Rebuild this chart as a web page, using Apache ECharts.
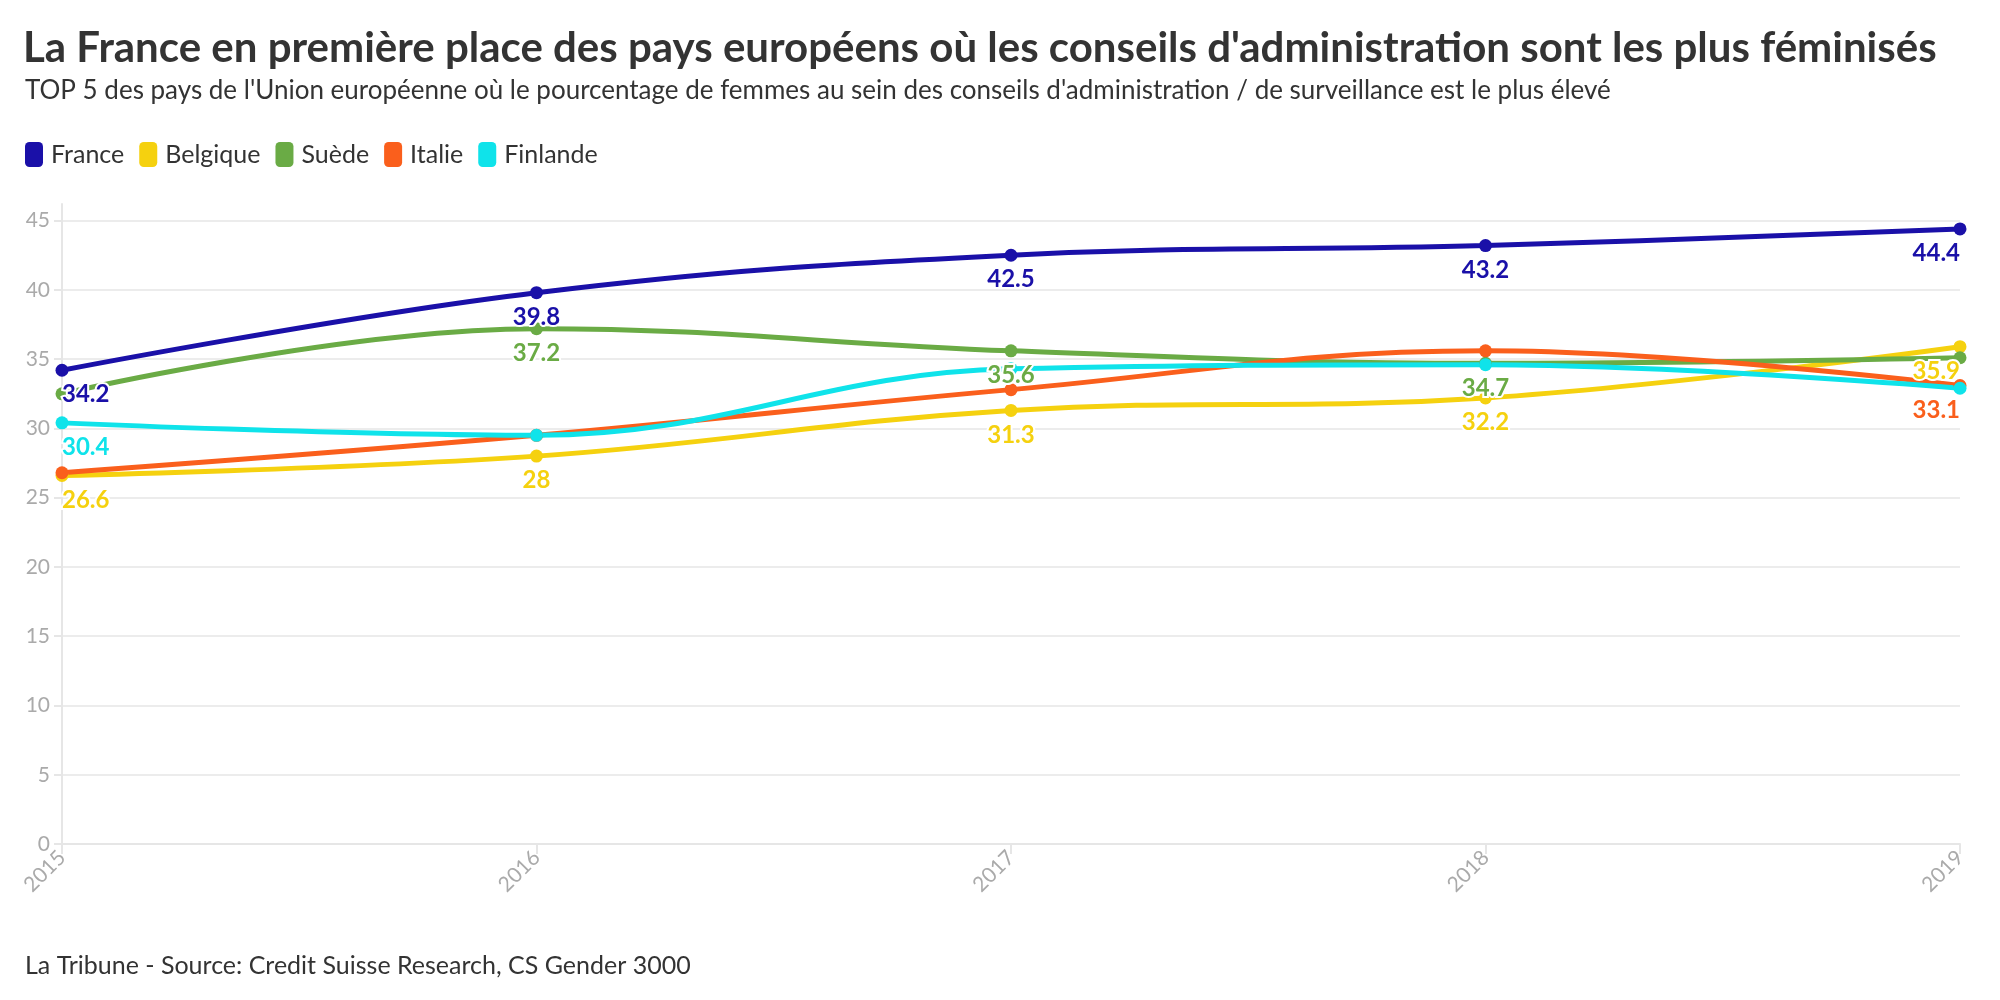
<!DOCTYPE html>
<html>
<head>
<meta charset="utf-8">
<script src="https://cdn.jsdelivr.net/npm/echarts@6/dist/echarts.min.js"></script>
<style>
  html, body { margin: 0; padding: 0; background: #fff; }
  #main { width: 2000px; height: 1000px; }
</style>
</head>
<body>
<div id="main"></div>
<script>
// années
var years = ["2015", "2016", "2017", "2018", "2019"];

// % de femmes dans les conseils
var france = [34.2, 39.8, 42.5, 43.2, 44.4];
var belgique = [26.6, 28, 31.3, 32.2, 35.9];
var suede = [32.5, 37.2, 35.6, 34.7, 35.1];
var italie = [26.8, 29.5, 32.8, 35.6, 33.1];
var finlande = [30.4, 29.5, 34.3, 34.6, 32.9];

// étiquettes visibles (les autres se chevauchent dans l'original)
var showFrance = [true, true, true, true, true];
var showBelgique = [true, true, true, true, true];
var showSuede = [false, true, true, true, false];
var showItalie = [false, false, false, false, true];
var showFinlande = [true, false, false, false, false];

var font = "Lato, 'Noto Sans', sans-serif";

function makeSeries(name, values, shown, color) {
  return {
    name: name,
    type: "line",
    smooth: 0.4,
    symbol: "circle",
    symbolSize: 13,
    lineStyle: { width: 5, color: color },
    itemStyle: { color: color },
    data: values.map(function (v, i) {
      var align = i === 0 ? "left" : (i === values.length - 1 ? "right" : "center");
      return {
        value: v,
        label: {
          show: shown[i],
          position: "bottom",
          distance: 6,
          align: align,
          color: color,
          fontFamily: font,
          fontWeight: "bold",
          fontSize: 24,
          textBorderColor: "#fff",
          textBorderWidth: 4
        }
      };
    })
  };
}

var myChart = echarts.init(document.getElementById("main"));
myChart.setOption({
  animation: false,
  backgroundColor: "#fff",
  title: [
    {
      text: "La France en première place des pays européens où les conseils d'administration sont les plus féminisés",
      left: 18,
      top: 22,
      textStyle: { fontFamily: font, fontWeight: "bold", fontSize: 42, color: "#333" }
    },
    {
      text: "TOP 5 des pays de l'Union européenne où le pourcentage de femmes au sein des conseils d'administration / de surveillance est le plus élevé",
      left: 20,
      top: 73,
      textStyle: { fontFamily: font, fontWeight: "normal", fontSize: 26, color: "#333" }
    },
    {
      text: "La Tribune - Source: Credit Suisse Research, CS Gender 3000",
      left: 20,
      top: 948,
      textStyle: { fontFamily: font, fontWeight: "normal", fontSize: 25, color: "#333" }
    }
  ],
  legend: {
    left: 20,
    top: 137,
    icon: "roundRect",
    itemWidth: 18,
    itemHeight: 25,
    itemGap: 15,
    textStyle: { fontFamily: font, fontSize: 25, color: "#333", padding: [0, 0, 0, 3] },
    data: ["France", "Belgique", "Suède", "Italie", "Finlande"]
  },
  grid: { left: 62, right: 40, top: 204, bottom: 156, containLabel: false },
  xAxis: {
    type: "category",
    boundaryGap: false,
    data: years,
    axisLine: { lineStyle: { color: "#e6e6e6", width: 2 } },
    axisTick: { show: true, length: 10, lineStyle: { color: "#e6e6e6", width: 2 } },
    axisLabel: { rotate: 45, margin: 10, color: "#aaa", fontFamily: font, fontSize: 21 },
    splitLine: { show: false }
  },
  yAxis: {
    type: "value",
    min: 0,
    max: 46.2,
    interval: 5,
    axisLine: { show: true, lineStyle: { color: "#e6e6e6", width: 2 } },
    axisTick: { show: true, length: 8, lineStyle: { color: "#e6e6e6", width: 2 } },
    axisLabel: { showMaxLabel: false, color: "#aaa", fontFamily: font, fontSize: 21, margin: 12 },
    splitLine: { show: true, showMaxLine: false, lineStyle: { color: "#ececec", width: 2 } }
  },
  series: [
    makeSeries("France", france, showFrance, "#1a10a8"),
    makeSeries("Belgique", belgique, showBelgique, "#f5d10f"),
    makeSeries("Suède", suede, showSuede, "#6aab45"),
    makeSeries("Italie", italie, showItalie, "#fa5f1c"),
    makeSeries("Finlande", finlande, showFinlande, "#0fe3ea")
  ]
});
</script>
</body>
</html>
